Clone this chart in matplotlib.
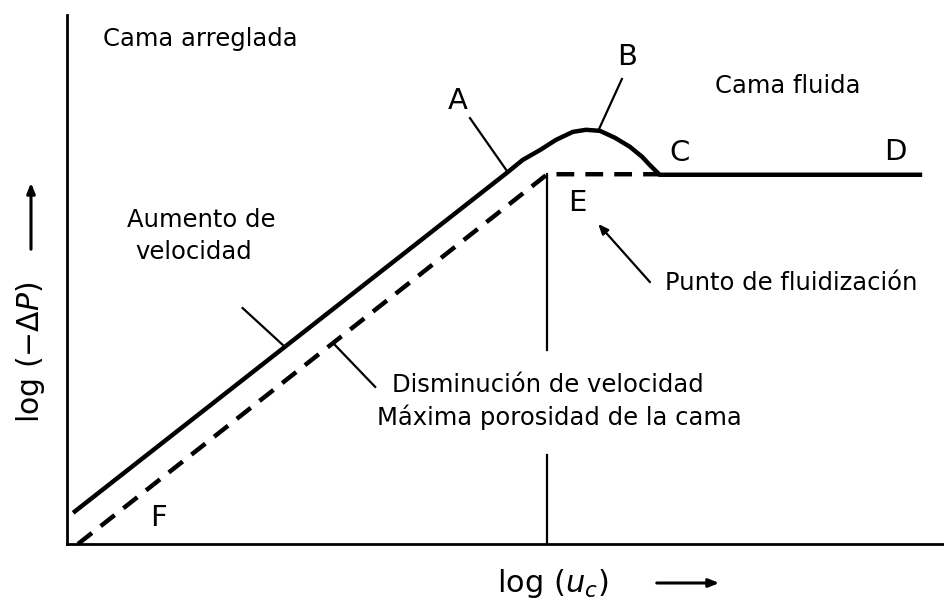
import matplotlib
matplotlib.use("Agg")
import matplotlib.pyplot as plt

plt.rcParams['font.family'] = ['DejaVu Sans']
plt.rcParams['mathtext.fontset'] = 'dejavusans'

# Pressure drop vs. superficial velocity (log-log schematic, normalised 0-10 units)
# Rising velocity: packed bed, overshoot at B, fluidised plateau C-D
up_x = [0.07, 5.02, 5.19, 5.39, 5.57, 5.76, 5.91, 6.07, 6.24, 6.41, 6.55, 6.64, 6.75, 9.74]
up_y = [0.59, 7.03, 7.26, 7.45, 7.64, 7.79, 7.83, 7.81, 7.68, 7.51, 7.32, 7.16, 6.98, 6.98]

# Falling velocity: bed at maximum porosity (dashed)
down_x = [0.125, 5.47, 6.75]
down_y = [0.0, 6.99, 6.99]

# Minimum fluidisation velocity marker
umf_x = 5.47
umf_upper = [6.99, 3.67]
umf_lower = [1.68, 0.0]

point_labels = ["A", "B", "C", "D", "E", "F"]
point_xy = [(4.45, 8.37), (6.38, 9.21), (6.98, 7.39), (9.44, 7.41), (5.81, 6.45), (1.04, 0.49)]

region_texts = ["Cama arreglada", "Cama fluida", "Aumento de", "velocidad",
                "Punto de fluidización", "Disminución de velocidad",
                "Máxima porosidad de la cama"]
region_xy = [(0.41, 9.41), (7.38, 8.53), (0.683, 5.99), (0.774, 5.39),
             (6.81, 4.80), (3.70, 2.87), (3.53, 2.25)]

# Leader lines from labels to the curves
leaders = [((4.59, 8.05), (5.02, 7.03)),
           ((6.32, 8.79), (6.05, 7.81)),
           ((2.00, 4.46), (2.46, 3.76)),
           ((3.03, 3.80), (3.51, 2.97))]

W, H = 945, 603
fig = plt.figure(figsize=(W / 100, H / 100), dpi=100)
ax = fig.add_axes([67 / W, (H - 544) / H, (W - 67) / W, (544 - 15) / H])
ax.set_xlim(0, 10)
ax.set_ylim(0, 10)
ax.set_xticks([])
ax.set_yticks([])
for s in ("top", "right"):
    ax.spines[s].set_visible(False)
for s in ("left", "bottom"):
    ax.spines[s].set_linewidth(2.0)
ax.patch.set_alpha(0)

ax.plot(up_x, up_y, color="black", lw=3.2, solid_capstyle="butt",
        solid_joinstyle="round", clip_on=False)
ax.plot(down_x, down_y, color="black", lw=3.2, linestyle=(0, (4.0, 2.5)),
        dash_capstyle="butt", clip_on=False)
ax.plot([umf_x, umf_x], umf_upper, color="black", lw=1.6)
ax.plot([umf_x, umf_x], umf_lower, color="black", lw=1.6)

for (p0, p1) in leaders:
    ax.plot([p0[0], p1[0]], [p0[1], p1[1]], color="black", lw=1.6)

ax.annotate("", xy=(6.05, 6.05), xytext=(6.64, 4.95),
            arrowprops=dict(arrowstyle="-|>,head_length=0.6,head_width=0.25",
                            color="black", lw=1.6, shrinkA=0, shrinkB=0))

for lab, (x, y) in zip(point_labels, point_xy):
    ax.text(x, y, lab, fontsize=21, ha="center", va="center")

for txt, (x, y) in zip(region_texts, region_xy):
    ax.text(x, y, txt, fontsize=17.5, ha="left", va="baseline")

# Axis titles with direction arrows
fig.text(31 / W, 1 - 352 / H, "log (−Δ$P$)", rotation=90, fontsize=21.5,
         ha="center", va="center")
fig.text(497 / W, 1 - 592 / H, "log ($u_c$)", fontsize=22, ha="left", va="baseline")
fig.add_artist(matplotlib.patches.FancyArrowPatch(
    (31 / W, 1 - 252 / H), (31 / W, 1 - 180 / H), transform=fig.transFigure,
    arrowstyle="-|>,head_length=0.5,head_width=0.2", color="black", lw=2.2,
    mutation_scale=12))
fig.add_artist(matplotlib.patches.FancyArrowPatch(
    (654 / W, 1 - 583 / H), (722 / W, 1 - 583 / H), transform=fig.transFigure,
    arrowstyle="-|>,head_length=0.5,head_width=0.2", color="black", lw=2.2,
    mutation_scale=12))

fig.savefig("out.png", dpi=100, facecolor="white")
